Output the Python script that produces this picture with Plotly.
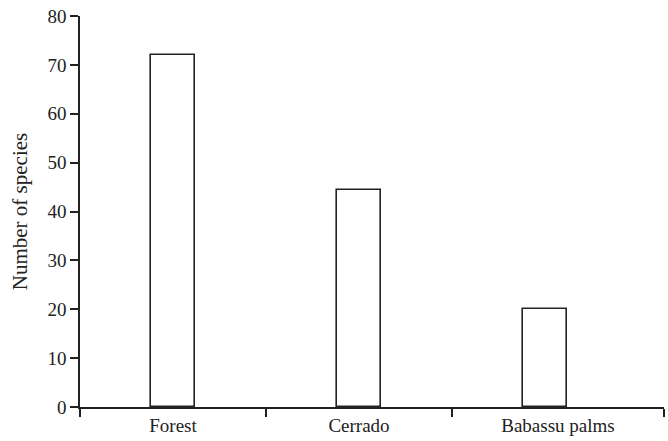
import plotly.graph_objects as go

categories = ["Forest", "Cerrado", "Babassu palms"]
species_counts = [72, 44.5, 20]
y_ticks = [0, 10, 20, 30, 40, 50, 60, 70, 80]

x_pos = list(range(len(categories)))
# category boundaries along the x axis (last region is drawn a bit wider)
boundaries = [-0.5, 0.5, 1.5, 2.64]
label_pos = [(boundaries[i] + boundaries[i + 1]) / 2 for i in range(len(categories))]

fig = go.Figure()
fig.add_trace(go.Bar(
    x=x_pos, y=species_counts, width=0.24,
    marker=dict(color="white", line=dict(color="#222222", width=1.6)),
    showlegend=False, hoverinfo="skip",
))

fig.update_layout(
    width=668, height=441,
    margin=dict(l=80, r=4, t=16, b=34, autoexpand=False),
    paper_bgcolor="white", plot_bgcolor="white",
    font=dict(family="Liberation Serif", size=19, color="#222222"),
    bargap=0,
)
fig.update_xaxes(
    range=[boundaries[0], boundaries[-1]],
    tickvals=label_pos, ticktext=categories,
    ticks="", showgrid=False, zeroline=False,
    showline=True, linecolor="#222222", linewidth=1.6,
    minor=dict(tickvals=boundaries, ticks="outside",
               ticklen=8, tickwidth=1.6, tickcolor="#222222", showgrid=False),
    tickfont=dict(size=19),
    ticklabeloverflow="allow", automargin=False,
)
fig.update_yaxes(
    range=[0, 80], tickvals=y_ticks,
    ticks="outside", ticklen=8, tickwidth=1.6, tickcolor="#222222",
    showgrid=False, zeroline=False,
    showline=True, linecolor="#222222", linewidth=1.6,
    title=dict(text="Number of species", font=dict(size=21), standoff=14),
    tickfont=dict(size=19),
    ticklabeloverflow="allow", automargin=False,
)

fig.write_html(
    "out.html",
    config={"displayModeBar": False},
    post_script="document.body.style.margin='0';document.body.style.overflow='hidden';",
)
